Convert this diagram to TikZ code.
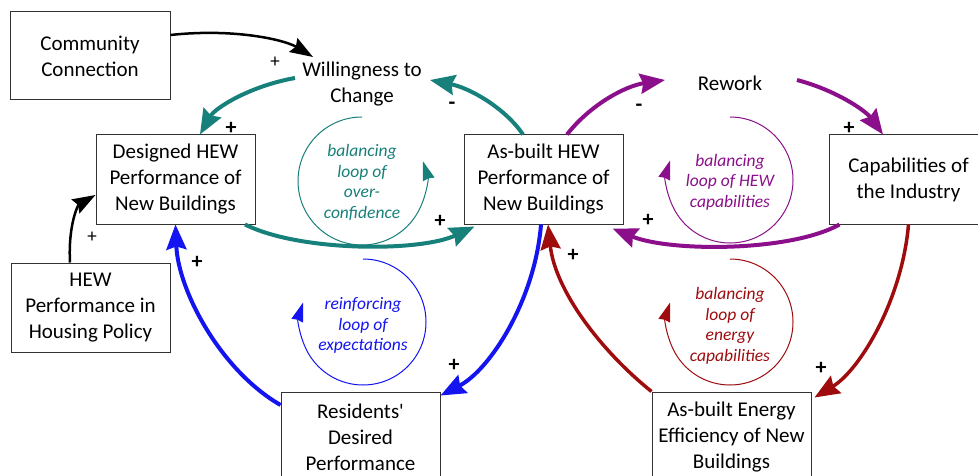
\documentclass[tikz,border=0pt]{standalone}
\usepackage{fontspec}
\setmainfont{Carlito}
\usetikzlibrary{arrows.meta}
\definecolor{cteal}{RGB}{23,128,122}
\definecolor{cpurple}{RGB}{139,15,139}
\definecolor{cblue}{RGB}{20,20,240}
\definecolor{cred}{RGB}{158,12,14}
\begin{document}
\begin{tikzpicture}[x=1pt,y=-1pt,
 box/.style={draw=black!80, line width=1pt, minimum width=159pt, minimum height=89pt, align=center, inner sep=0pt, font=\fontsize{21}{26}\selectfont},
 lbl/.style={align=center, inner sep=0pt, font=\fontsize{21}{26}\selectfont},
 loopt/.style={align=center, inner sep=0pt, font=\fontsize{17.5}{20.5}\selectfont\itshape},
 link/.style={line width=4pt, -{Stealth[length=25pt,width=20pt,inset=3pt]}},
 blink/.style={line width=2.5pt, -{Stealth[length=23pt,width=16pt,inset=3pt]}},
 loopa/.style={line width=1pt, -{Stealth[length=19pt,width=12pt,inset=1pt]}},
 sgn/.style={inner sep=0pt, font=\fontsize{22}{22}\selectfont\bfseries},
 sgnl/.style={inner sep=0pt, font=\fontsize{19}{19}\selectfont},
]
\useasboundingbox (0,0) rectangle (978,476);
\fill[white] (0,0) rectangle (978,476);

% boxes
\node[box, minimum width=160pt, minimum height=88pt] (comm) at (90,56) {Community\\Connection};
\node[box] (D) at (175.5,179.5) {Designed HEW\\Performance of\\New Buildings};
\node[box] (A) at (543.5,179.5) {As-built HEW\\Performance of\\New Buildings};
\node[box] (C) at (908.5,179.5) {Capabilities of\\the Industry};
\node[box] (P) at (90.5,307.5) {HEW\\Performance in\\Housing Policy};
\node[box, minimum height=90pt] (R) at (360.5,437) {Residents\textquotesingle\\Desired\\Performance};
\node[box, minimum height=90pt] (E) at (731.5,437) {As-built Energy\\Efficiency of New\\Buildings};
\node[lbl] (W) at (362,84) {Willingness to\\Change};
\node[lbl] (K) at (730,83) {Rework};

% connectors
\draw[blink] ([yshift=21pt]comm.east) .. controls (235,28) and (285,40) .. ([xshift=-49pt,yshift=27pt]W.center);
\draw[link, cteal] ([xshift=-67pt,yshift=6pt]W.center) .. controls (250,86) and (215,108) .. ([xshift=24.5pt]D.north);
\draw[link, cteal] ([xshift=-20.5pt]A.north) .. controls (505,108) and (470,88) .. ([xshift=68pt,yshift=4pt]W.center);
\draw[link, cteal] ([xshift=69.5pt]D.south) .. controls (300,252) and (420,252) .. ([xshift=11pt,yshift=-2pt]A.south west);
\draw[blink] ([xshift=-20.5pt]P.north) .. controls (68,225) and (78,205) .. ([yshift=-15.5pt]D.west);
\draw[link, cblue] ([yshift=32pt]R.west) .. controls (220,370) and (178,290) .. (D.south);
\draw[link, cblue] ([xshift=-2.5pt]A.south) .. controls (535,300) and (490,370) .. ([yshift=-4pt]R.north east);
\draw[link, cpurple] ([xshift=23.5pt]A.north) .. controls (590,105) and (625,86) .. ([xshift=-65pt,yshift=3pt]K.center);
\draw[link, cpurple] ([xshift=67pt,yshift=3pt]K.center) .. controls (835,90) and (865,110) .. ([xshift=-25.5pt]C.north);
\draw[link, cpurple] ([xshift=11pt]C.south west) .. controls (790,252) and (670,252) .. ([xshift=-11pt,yshift=-4pt]A.south east);
\draw[link, cred, line width=3.5pt] (C.south) .. controls (902,300) and (860,370) .. ([xshift=3pt,yshift=-6pt]E.north east);
\draw[link, cred, line width=3.5pt] (E.north west) .. controls (600,350) and (555,290) .. ([xshift=4.5pt]A.south);

% loops
\draw[loopa, cteal] (362,117) arc[start angle=90, end angle=378, radius=64pt];
\draw[loopa, cpurple] (730,117) arc[start angle=90, end angle=-198, radius=63pt];
\draw[loopa, cblue] (363,259) arc[start angle=90, end angle=-198, radius=63pt];
\draw[loopa, cred] (730,259) arc[start angle=90, end angle=-198, radius=63pt];

\node[loopt, text=cteal] (Lt) at (362,182.5) {balancing\\loop of\\over-\\confidence};
\node[loopt, text=cpurple] (Lp) at (730,182) {balancing\\loop of HEW\\capabilities};
\node[loopt, text=cblue] (Lb) at (363,325.5) {reinforcing\\loop of\\expectations};
\node[loopt, text=cred] (Lr) at (730,326) {balancing\\loop of\\energy\\capabilities};

% signs
\node[sgnl] (s1) at (275,62) {+};
\node[sgn] (s2) at (231,128) {+};
\node[sgn] (s3) at (452,106) {-};
\node[sgn] (s4) at (440,221) {+};
\node[sgnl] (s5) at (92,237) {+};
\node[sgn] (s6) at (197,262) {+};
\node[sgn] (s7) at (454,365) {+};
\node[sgn] (s8) at (639,108) {-};
\node[sgn] (s9) at (849,128) {+};
\node[sgn] (s10) at (648,220) {+};
\node[sgn] (s11) at (821,368) {+};
\node[sgn] (s12) at (573,255) {+};
\end{tikzpicture}
\end{document}
